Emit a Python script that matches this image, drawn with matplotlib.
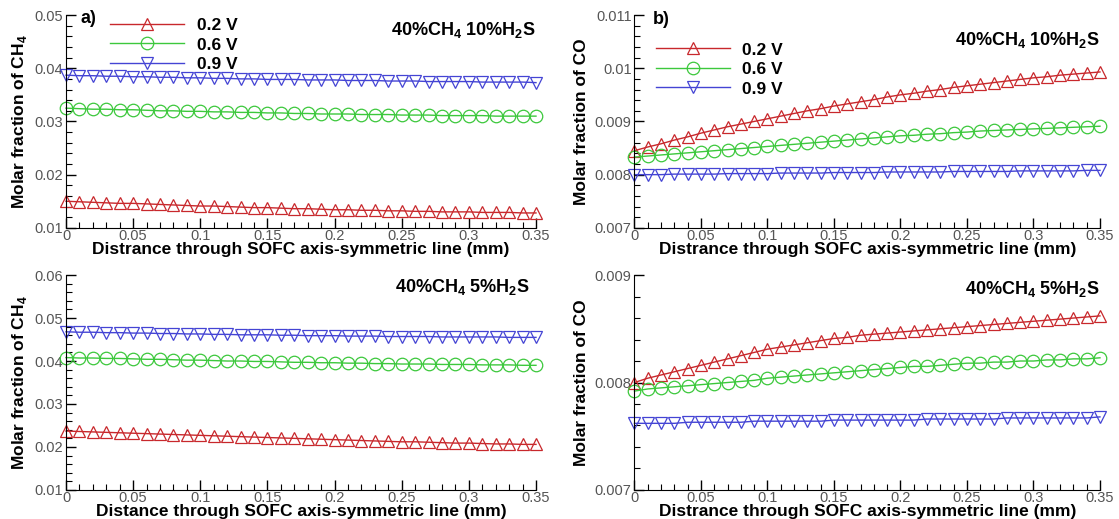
import matplotlib
matplotlib.use('Agg')
import matplotlib.pyplot as plt
from matplotlib.ticker import AutoMinorLocator, FormatStrFormatter, MultipleLocator

plt.rcParams['font.family'] = ['Liberation Sans', 'DejaVu Sans']
plt.rcParams['mathtext.fontset'] = 'custom'
plt.rcParams['mathtext.rm'] = 'Liberation Sans'
plt.rcParams['mathtext.bf'] = 'Liberation Sans:bold'

# distance along the axis-symmetric line (mm)
distance = [0.00, 0.01, 0.02, 0.03, 0.04, 0.05, 0.06, 0.07, 0.08, 0.09,
            0.10, 0.11, 0.12, 0.13, 0.14, 0.15, 0.16, 0.17, 0.18, 0.19,
            0.20, 0.21, 0.22, 0.23, 0.24, 0.25, 0.26, 0.27, 0.28, 0.29,
            0.30, 0.31, 0.32, 0.33, 0.34, 0.35]

voltages = ['0.2 V', '0.6 V', '0.9 V']

# a) CH4, 40%CH4 10%H2S
ch4_10_02 = [0.0150, 0.0149, 0.0148, 0.0147, 0.0146, 0.0146, 0.0145, 0.0144, 0.0143, 0.0142,
             0.0141, 0.0141, 0.0140, 0.0139, 0.0138, 0.0138, 0.0137, 0.0136, 0.0136, 0.0135,
             0.0134, 0.0134, 0.0133, 0.0133, 0.0132, 0.0132, 0.0131, 0.0131, 0.0130, 0.0130,
             0.0130, 0.0129, 0.0129, 0.0129, 0.0128, 0.0128]
ch4_10_06 = [0.0325, 0.0324, 0.0323, 0.0323, 0.0322, 0.0322, 0.0321, 0.0320, 0.0320, 0.0319,
             0.0319, 0.0318, 0.0318, 0.0317, 0.0317, 0.0316, 0.0316, 0.0315, 0.0315, 0.0314,
             0.0314, 0.0314, 0.0313, 0.0313, 0.0313, 0.0312, 0.0312, 0.0312, 0.0311, 0.0311,
             0.0311, 0.0311, 0.0310, 0.0310, 0.0310, 0.0310]
ch4_10_09 = [0.0387, 0.0386, 0.0386, 0.0385, 0.0385, 0.0384, 0.0384, 0.0383, 0.0383, 0.0382,
             0.0382, 0.0381, 0.0381, 0.0380, 0.0380, 0.0379, 0.0379, 0.0379, 0.0378, 0.0378,
             0.0378, 0.0377, 0.0377, 0.0377, 0.0376, 0.0376, 0.0376, 0.0375, 0.0375, 0.0375,
             0.0375, 0.0374, 0.0374, 0.0374, 0.0374, 0.0373]

# b) CO, 40%CH4 10%H2S
co_10_02 = [0.00845, 0.00852, 0.00858, 0.00865, 0.00871, 0.00878, 0.00884, 0.00890, 0.00895, 0.00900,
            0.00905, 0.00910, 0.00915, 0.00920, 0.00924, 0.00929, 0.00933, 0.00937, 0.00941, 0.00946,
            0.00950, 0.00953, 0.00957, 0.00960, 0.00964, 0.00967, 0.00970, 0.00973, 0.00976, 0.00979,
            0.00982, 0.00984, 0.00987, 0.00989, 0.00991, 0.00993]
co_10_06 = [0.00833, 0.00835, 0.00837, 0.00839, 0.00841, 0.00843, 0.00845, 0.00847, 0.00849, 0.00851,
            0.00853, 0.00855, 0.00857, 0.00859, 0.00861, 0.00863, 0.00865, 0.00867, 0.00869, 0.00871,
            0.00873, 0.00874, 0.00876, 0.00877, 0.00879, 0.00880, 0.00882, 0.00883, 0.00884, 0.00885,
            0.00886, 0.00887, 0.00888, 0.00889, 0.00890, 0.00891]
co_10_09 = [0.00800, 0.00800, 0.00800, 0.00801, 0.00801, 0.00801, 0.00801, 0.00802, 0.00802, 0.00802,
            0.00802, 0.00803, 0.00803, 0.00803, 0.00803, 0.00804, 0.00804, 0.00804, 0.00804, 0.00805,
            0.00805, 0.00805, 0.00805, 0.00805, 0.00806, 0.00806, 0.00806, 0.00806, 0.00806, 0.00807,
            0.00807, 0.00807, 0.00807, 0.00807, 0.00808, 0.00808]

# c) CH4, 40%CH4 5%H2S
ch4_5_02 = [0.0237, 0.0236, 0.0235, 0.0234, 0.0233, 0.0232, 0.0231, 0.0230, 0.0229, 0.0228,
            0.0227, 0.0226, 0.0225, 0.0224, 0.0223, 0.0222, 0.0221, 0.0220, 0.0219, 0.0218,
            0.0217, 0.0216, 0.0215, 0.0214, 0.0213, 0.0212, 0.0212, 0.0211, 0.0210, 0.0209,
            0.0209, 0.0208, 0.0207, 0.0207, 0.0206, 0.0206]
ch4_5_06 = [0.0408, 0.0407, 0.0407, 0.0406, 0.0406, 0.0405, 0.0404, 0.0404, 0.0403, 0.0402,
            0.0402, 0.0401, 0.0400, 0.0400, 0.0399, 0.0399, 0.0398, 0.0397, 0.0397, 0.0396,
            0.0396, 0.0395, 0.0395, 0.0394, 0.0394, 0.0393, 0.0393, 0.0393, 0.0392, 0.0392,
            0.0392, 0.0391, 0.0391, 0.0391, 0.0390, 0.0390]
ch4_5_09 = [0.0468, 0.0467, 0.0467, 0.0466, 0.0466, 0.0465, 0.0465, 0.0464, 0.0464, 0.0463,
            0.0463, 0.0462, 0.0462, 0.0461, 0.0461, 0.0461, 0.0460, 0.0460, 0.0459, 0.0459,
            0.0459, 0.0458, 0.0458, 0.0458, 0.0457, 0.0457, 0.0457, 0.0457, 0.0456, 0.0456,
            0.0456, 0.0456, 0.0456, 0.0455, 0.0455, 0.0455]

# d) CO, 40%CH4 5%H2S
co_5_02 = [0.00800, 0.00804, 0.00807, 0.00810, 0.00813, 0.00816, 0.00819, 0.00822, 0.00825, 0.00828,
           0.00831, 0.00833, 0.00835, 0.00837, 0.00839, 0.00841, 0.00842, 0.00844, 0.00845, 0.00846,
           0.00847, 0.00848, 0.00849, 0.00850, 0.00851, 0.00852, 0.00853, 0.00854, 0.00855, 0.00856,
           0.00857, 0.00858, 0.00859, 0.00860, 0.00861, 0.00862]
co_5_06 = [0.00792, 0.00794, 0.00795, 0.00796, 0.00797, 0.00798, 0.00799, 0.00800, 0.00801, 0.00802,
           0.00804, 0.00805, 0.00806, 0.00807, 0.00808, 0.00809, 0.00810, 0.00811, 0.00812, 0.00813,
           0.00814, 0.00815, 0.00815, 0.00816, 0.00817, 0.00818, 0.00818, 0.00819, 0.00819, 0.00820,
           0.00820, 0.00821, 0.00821, 0.00822, 0.00822, 0.00823]
co_5_09 = [0.00762, 0.00762, 0.00762, 0.00762, 0.00763, 0.00763, 0.00763, 0.00763, 0.00763, 0.00764,
           0.00764, 0.00764, 0.00764, 0.00764, 0.00764, 0.00765, 0.00765, 0.00765, 0.00765, 0.00765,
           0.00765, 0.00765, 0.00766, 0.00766, 0.00766, 0.00766, 0.00766, 0.00766, 0.00767, 0.00767,
           0.00767, 0.00767, 0.00767, 0.00767, 0.00767, 0.00768]

colors = ['#c8282c', '#3cc83c', '#4444d4']
markers = ['^', 'o', 'v']

fig = plt.figure(figsize=(11.19, 5.19), dpi=100)

# axes rectangles: [left, bottom, width, height] in figure fraction
ax_a = fig.add_axes([0.059, 0.561, 0.420, 0.410])
ax_b = fig.add_axes([0.567, 0.561, 0.416, 0.410])
ax_c = fig.add_axes([0.059, 0.056, 0.420, 0.414])
ax_d = fig.add_axes([0.567, 0.056, 0.416, 0.414])


def draw_panel(ax, series, ylim, ymajor, ylabel, xlabel, note, note_xy):
    for ys, c, m, lab in zip(series, colors, markers, voltages):
        ax.plot(distance, ys, color=c, lw=1.0, marker=m, markersize=9,
                markerfacecolor='none', markeredgecolor=c, markeredgewidth=0.9,
                label=lab, clip_on=False)
    ax.set_xlim(0, 0.35)
    ax.set_ylim(*ylim)
    ax.spines['top'].set_visible(False)
    ax.spines['right'].set_visible(False)
    ax.xaxis.set_major_locator(MultipleLocator(0.05))
    ax.xaxis.set_minor_locator(AutoMinorLocator(5))
    ax.yaxis.set_major_locator(MultipleLocator(ymajor))
    ax.yaxis.set_minor_locator(AutoMinorLocator(5))
    ax.xaxis.set_major_formatter(FormatStrFormatter('%g'))
    ax.yaxis.set_major_formatter(FormatStrFormatter('%g'))
    ax.tick_params(which='both', direction='in', colors='black', labelcolor='#555555',
                   labelsize=10.5)
    ax.tick_params(which='major', length=7, width=1)
    ax.tick_params(which='minor', length=4, width=0.8)
    ax.tick_params(axis='x', pad=1)
    ax.tick_params(axis='y', pad=2)
    ax.set_xlabel(xlabel, fontsize=12.5, fontweight='bold', labelpad=-1)
    ax.set_ylabel(ylabel, fontsize=12.5, fontweight='bold', labelpad=4)
    ax.text(note_xy[0], note_xy[1], note, transform=ax.transAxes, ha='right', va='top',
            fontsize=13, fontweight='bold')


x_lab = 'Distrance through SOFC axis-symmetric line (mm)'

draw_panel(ax_a, [ch4_10_02, ch4_10_06, ch4_10_09], (0.01, 0.05), 0.01,
           r'Molar fraction of CH$_\mathbf{4}$', x_lab,
           r'40%CH$_\mathbf{4}$ 10%H$_\mathbf{2}$S', (1.0, 0.975))
draw_panel(ax_b, [co_10_02, co_10_06, co_10_09], (0.007, 0.011), 0.001,
           'Molar fraction of CO', x_lab,
           r'40%CH$_\mathbf{4}$ 10%H$_\mathbf{2}$S', (1.0, 0.93))
draw_panel(ax_c, [ch4_5_02, ch4_5_06, ch4_5_09], (0.01, 0.06), 0.01,
           r'Molar fraction of CH$_\mathbf{4}$',
           'Distance through SOFC axis-symmetric line (mm)',
           r'40%CH$_\mathbf{4}$ 5%H$_\mathbf{2}$S', (0.987, 0.99))
draw_panel(ax_d, [co_5_02, co_5_06, co_5_09], (0.007, 0.009), 0.001,
           'Molar fraction of CO', x_lab,
           r'40%CH$_\mathbf{4}$ 5%H$_\mathbf{2}$S', (1.0, 0.98))

# panel tags and legends
ax_a.text(0.03, 1.025, 'a)', transform=ax_a.transAxes, ha='left', va='top',
          fontsize=13, fontweight='bold')
ax_b.text(0.04, 1.02, 'b)', transform=ax_b.transAxes, ha='left', va='top',
          fontsize=13, fontweight='bold')

leg_a = ax_a.legend(loc='upper left', bbox_to_anchor=(0.06, 1.06), frameon=False,
                    handlelength=4.3, handletextpad=0.7, labelspacing=0.25,
                    prop={'weight': 'bold', 'size': 12.5})
leg_b = ax_b.legend(loc='upper left', bbox_to_anchor=(0.012, 0.945), frameon=False,
                    handlelength=4.3, handletextpad=0.7, labelspacing=0.25,
                    prop={'weight': 'bold', 'size': 12.5})

fig.savefig('out.png', dpi=100)
